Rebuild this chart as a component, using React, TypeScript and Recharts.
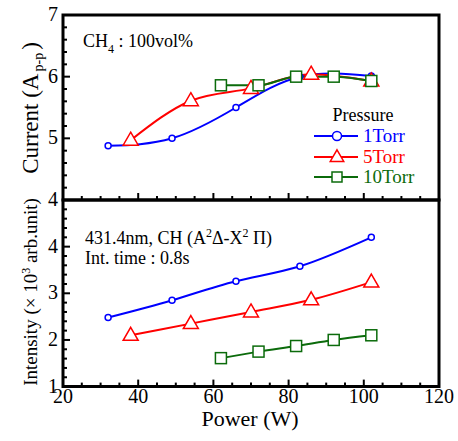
import { LineChart, Line, XAxis, YAxis, ReferenceArea } from "recharts";

const FONT = "'Liberation Serif', 'Times New Roman', serif";
const BLUE = "#0000ff";
const RED = "#ff0000";
const GREEN = "#0b6b0b";

// axis ticks (minor + major)
const powerTicks = [20, 25, 30, 35, 40, 45, 50, 55, 60, 65, 70, 75, 80, 85, 90, 95, 100, 105, 110, 115, 120];
const powerLabels = [20, 40, 60, 80, 100, 120];
const currentTicks = [4, 4.2, 4.4, 4.6, 4.8, 5, 5.2, 5.4, 5.6, 5.8, 6, 6.2, 6.4, 6.6, 6.8, 7];
const currentLabels = [4, 5, 6, 7];
const intensityTicks = [1, 1.2, 1.4, 1.6, 1.8, 2, 2.2, 2.4, 2.6, 2.8, 3, 3.2, 3.4, 3.6, 3.8, 4, 4.2, 4.4, 4.6, 4.8, 5];
const intensityLabels = [1, 2, 3, 4];

// 1 Torr
const power1 = [32, 49, 66, 83, 102];
const current1 = [4.88, 5.0, 5.5, 6.0, 6.01];
const intensity1 = [2.48, 2.85, 3.26, 3.58, 4.2];
// 5 Torr
const power5 = [38, 54, 70, 86, 102];
const current5 = [4.97, 5.61, 5.81, 6.04, 5.93];
const intensity5 = [2.1, 2.35, 2.6, 2.86, 3.24];
// 10 Torr
const power10 = [62, 72, 82, 92, 102];
const current10 = [5.86, 5.86, 6.0, 6.0, 5.93];
const intensity10 = [1.61, 1.75, 1.87, 2.0, 2.1];

const toRows = (xs: number[], ys: number[]) => xs.map((x, i) => ({ power: x, value: ys[i] }));

const XTick = (props: any) => {
  const { x, y, payload, showLabel } = props;
  const major = powerLabels.includes(payload.value);
  return (
    <g>
      <line x1={x} x2={x} y1={y} y2={y - (major ? 7 : 4)} stroke="#000" strokeWidth={2} />
      {showLabel && major && (
        <text x={x} y={y + 16} textAnchor="middle" fontFamily={FONT} fontSize={20} fill="#000">
          {payload.value}
        </text>
      )}
    </g>
  );
};

const YTick = (props: any) => {
  const { x, y, payload, labels } = props;
  const major = Number.isInteger(payload.value);
  return (
    <g>
      <line x1={x} x2={x + (major ? 7 : 4)} y1={y} y2={y} stroke="#000" strokeWidth={2} />
      {labels.includes(payload.value) && (
        <text x={x - 5} y={y + 6} textAnchor="end" fontFamily={FONT} fontSize={20} fill="#000">
          {payload.value}
        </text>
      )}
    </g>
  );
};

const CircleDot = (props: any) => {
  const { cx, cy, stroke, r = 4.5 } = props;
  return <circle key={`c-${cx}`} cx={cx} cy={cy} r={r} fill="#fff" stroke={stroke} strokeWidth={1.5} />;
};

const TriangleDot = (props: any) => {
  const { cx, cy, stroke, s = 1 } = props;
  const pts = `${cx},${cy - 8 * s} ${cx + 7.5 * s},${cy + 5 * s} ${cx - 7.5 * s},${cy + 5 * s}`;
  return <polygon key={`t-${cx}`} points={pts} fill="#fff" stroke={stroke} strokeWidth={1.5} />;
};

const SquareDot = (props: any) => {
  const { cx, cy, stroke, h = 5.5 } = props;
  return <rect key={`s-${cx}`} x={cx - h} y={cy - h} width={h * 2} height={h * 2} fill="#fff" stroke={stroke} strokeWidth={1.5} />;
};

const seriesLines = (v1: number[], v5: number[], v10: number[]) => [
  <Line key="l1" data={toRows(power1, v1)} dataKey="value" type="natural" stroke={BLUE} strokeWidth={2}
    dot={(p: any) => <CircleDot {...p} stroke={BLUE} />} isAnimationActive={false} />,
  <Line key="l5" data={toRows(power5, v5)} dataKey="value" type="monotone" stroke={RED} strokeWidth={2}
    dot={(p: any) => <TriangleDot {...p} stroke={RED} />} isAnimationActive={false} />,
  <Line key="l10" data={toRows(power10, v10)} dataKey="value" type="monotone" stroke={GREEN} strokeWidth={2}
    dot={(p: any) => <SquareDot {...p} stroke={GREEN} />} isAnimationActive={false} />,
];

const legendRows = [
  { label: "1Torr", color: BLUE, y: 136, Dot: CircleDot },
  { label: "5Torr", color: RED, y: 157, Dot: TriangleDot },
  { label: "10Torr", color: GREEN, y: 177, Dot: SquareDot },
];

export default function App() {
  return (
    <div style={{ position: "fixed", left: 0, top: 0, width: 458, height: 441, background: "#fff" }}>
      <div style={{ position: "absolute", left: 0, top: 0 }}>
        <LineChart width={458} height={215} margin={{ top: 15, right: 19, bottom: 0, left: 0 }}>
          <XAxis dataKey="power" type="number" domain={[20, 120]} ticks={powerTicks} interval={0}
            height={15} tickSize={0} tickMargin={0} axisLine={false} tickLine={false}
            tick={(p: any) => <XTick {...p} showLabel={false} />} allowDataOverflow />
          <YAxis type="number" domain={[4, 7]} ticks={currentTicks} interval={0} width={63}
            tickSize={0} tickMargin={0} axisLine={false} tickLine={false}
            tick={(p: any) => <YTick {...p} labels={currentLabels} />} allowDataOverflow />
          <ReferenceArea x1={20} x2={120} y1={4} y2={7} fill="none" stroke="#000" strokeWidth={3} />
          {seriesLines(current1, current5, current10)}
        </LineChart>
      </div>
      <div style={{ position: "absolute", left: 0, top: 0 }}>
        <LineChart width={458} height={441} margin={{ top: 200, right: 19, bottom: 0, left: 0 }}>
          <XAxis dataKey="power" type="number" domain={[20, 120]} ticks={powerTicks} interval={0}
            height={54.4} tickSize={0} tickMargin={0} axisLine={false} tickLine={false}
            tick={(p: any) => <XTick {...p} showLabel />} allowDataOverflow />
          <YAxis type="number" domain={[1, 5]} ticks={intensityTicks} interval={0} width={63}
            tickSize={0} tickMargin={0} axisLine={false} tickLine={false}
            tick={(p: any) => <YTick {...p} labels={intensityLabels} />} allowDataOverflow />
          <ReferenceArea x1={20} x2={120} y1={1} y2={5} fill="none" stroke="#000" strokeWidth={3} />
          {seriesLines(intensity1, intensity5, intensity10)}
        </LineChart>
      </div>
      <svg width={458} height={441} style={{ position: "absolute", left: 0, top: 0, pointerEvents: "none" }}
        fontFamily={FONT} fill="#000">
        <text x={83} y={47} fontSize={18}>
          CH<tspan fontSize={12} dy={6}>4</tspan><tspan dy={-6}> : 100vol%</tspan>
        </text>
        <text x={85} y={244} fontSize={18}>
          431.4nm, CH (A<tspan fontSize={12} dy={-7}>2</tspan><tspan dy={7}>Δ-X</tspan>
          <tspan fontSize={12} dy={-7}>2</tspan><tspan dy={7}> Π)</tspan>
        </text>
        <text x={85} y={264} fontSize={18}>Int. time : 0.8s</text>

        <text x={363} y={121} fontSize={18} textAnchor="middle">Pressure</text>
        {legendRows.map(({ label, color, y, Dot }) => (
          <g key={label}>
            <line x1={314} x2={358} y1={y} y2={y} stroke={color} strokeWidth={2} />
            <Dot cx={337} cy={y} stroke={color} r={4.5} s={0.9} h={5} />
            <text x={363} y={y + 6} fontSize={19} fill={color}>{label}</text>
          </g>
        ))}

        <text transform="translate(38,108) rotate(-90)" fontSize={23} textAnchor="middle">
          Current (A<tspan fontSize={14} dy={5} dx={2}>p-p</tspan><tspan dy={-5} dx={3}>)</tspan>
        </text>
        <text transform="translate(37,292) rotate(-90)" fontSize={19} textAnchor="middle">
          Intensity (× 10<tspan fontSize={12} dy={-7}>3</tspan><tspan dy={7}> arb.unit)</tspan>
        </text>
        <text x={250} y={426} fontSize={22} textAnchor="middle">Power (W)</text>
      </svg>
    </div>
  );
}
